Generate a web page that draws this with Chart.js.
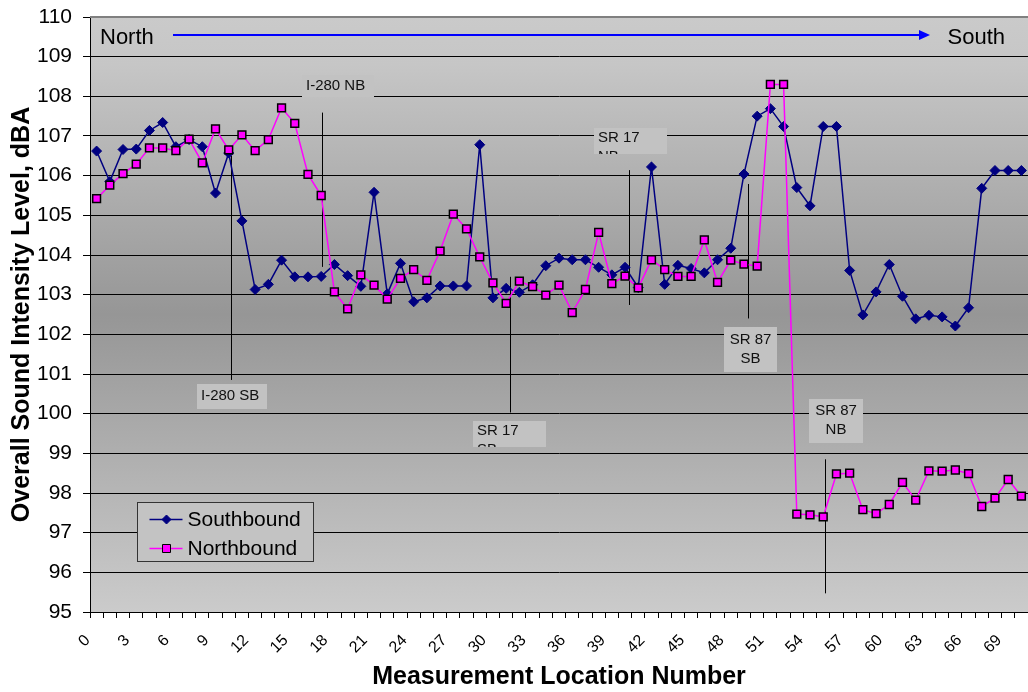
<!DOCTYPE html>
<html>
<head>
<meta charset="utf-8">
<script src="https://cdn.jsdelivr.net/npm/chart.js@4.4.0/dist/chart.umd.min.js"></script>
<style>
  html, body { margin: 0; padding: 0; background: #fff; overflow: hidden; }
  #wrap { width: 1028px; height: 692px; overflow: hidden; }
  #noiseChart { display: block; }
</style>
</head>
<body>
<div id="wrap"><canvas id="noiseChart" width="1028" height="692"></canvas></div>
<script>
// measurement locations along the route, north to south
const locations = [0, 1, 2, 3, 4, 5, 6, 7, 8, 9, 10, 11, 12, 13, 14, 15, 16, 17, 18, 19,
  20, 21, 22, 23, 24, 25, 26, 27, 28, 29, 30, 31, 32, 33, 34, 35, 36, 37, 38, 39,
  40, 41, 42, 43, 44, 45, 46, 47, 48, 49, 50, 51, 52, 53, 54, 55, 56, 57, 58, 59,
  60, 61, 62, 63, 64, 65, 66, 67, 68, 69, 70];

const southbound = [106.62, 105.85, 106.66, 106.67, 107.14, 107.34, 106.73, 106.91, 106.73, 105.56,
  106.57, 104.86, 103.13, 103.26, 103.87, 103.45, 103.45, 103.46, 103.76, 103.48,
  103.21, 105.58, 103.02, 103.79, 102.82, 102.92, 103.22, 103.22, 103.22, 106.78,
  102.92, 103.16, 103.06, 103.25, 103.73, 103.92, 103.88, 103.88, 103.69, 103.50,
  103.69, 103.18, 106.22, 103.26, 103.74, 103.66, 103.55, 103.88, 104.17, 106.04,
  107.50, 107.69, 107.24, 105.70, 105.24, 107.24, 107.24, 103.61, 102.49, 103.07,
  103.76, 102.96, 102.39, 102.48, 102.44, 102.21, 102.67, 105.68, 106.13, 106.13, 106.13];

const northbound = [105.42, 105.76, 106.05, 106.29, 106.70, 106.70, 106.63, 106.92, 106.32, 107.18,
  106.65, 107.03, 106.63, 106.91, 107.71, 107.32, 106.03, 105.50, 103.07, 102.64,
  103.50, 103.24, 102.89, 103.41, 103.63, 103.36, 104.10, 105.03, 104.66, 103.95,
  103.30, 102.78, 103.34, 103.20, 102.99, 103.24, 102.55, 103.13, 104.57, 103.28,
  103.47, 103.17, 103.88, 103.63, 103.46, 103.46, 104.38, 103.31, 103.87, 103.77,
  103.72, 108.30, 108.30, 97.47, 97.45, 97.40, 98.48, 98.50, 97.58, 97.48,
  97.71, 98.27, 97.82, 98.56, 98.55, 98.58, 98.49, 97.66, 97.87, 98.34, 97.92];

const yTicks = [95, 96, 97, 98, 99, 100, 101, 102, 103, 104, 105, 106, 107, 108, 109, 110];

// interchange marker lines: location and dBA extent
const interchanges = [
  { loc: 10.17, top: 106.5, bottom: 100.85 },
  { loc: 17.04, top: 107.59, bottom: 103.70 },
  { loc: 31.32, top: 103.45, bottom: 100.03 },
  { loc: 40.30, top: 106.14, bottom: 102.74 },
  { loc: 49.29, top: 105.79, bottom: 102.40 },
  { loc: 55.14, top: 98.85, bottom: 95.47 }
];

// callout texts, anchored at location / dBA of their top-left corner
const callouts = [
  { text: ['I-280 SB'], loc: 7.60, top: 100.75 },
  { text: ['I-280 NB'], loc: 15.55, top: 108.54 },
  { text: ['SR 17', 'SB'], loc: 28.49, top: 99.82 },
  { text: ['SR 17', 'NB'], loc: 37.65, top: 107.20 },
  { text: ['SR 87', 'SB'], loc: 47.49, top: 102.19 },
  { text: ['SR 87', 'NB'], loc: 53.93, top: 100.37 }
];
const calloutBoxes = [
  { w: 70, h: 25, align: 'left', dy: 12 },
  { w: 72, h: 22, align: 'left', dy: 11 },
  { w: 73, h: 26, align: 'left', dy: 10 },
  { w: 73, h: 26, align: 'left', dy: 10 },
  { w: 53, h: 45, align: 'center', dy: 13 },
  { w: 54, h: 44, align: 'center', dy: 12 }
];

const FONT = '"Liberation Sans", Arial, sans-serif';

const backdrop = {
  id: 'backdrop',
  beforeDraw(chart) {
    const { ctx, chartArea: a } = chart;
    const g = ctx.createLinearGradient(0, a.top, 0, a.bottom);
    g.addColorStop(0, '#cacaca');
    g.addColorStop(0.08, '#c6c6c6');
    g.addColorStop(0.5, '#969696');
    g.addColorStop(1, '#cbcbcb');
    ctx.save();
    ctx.fillStyle = g;
    ctx.fillRect(a.left, a.top, a.right - a.left, a.bottom - a.top);
    ctx.restore();
  }
};

const notes = {
  id: 'notes',
  beforeDatasetsDraw(chart) {
    const { ctx, scales: { x, y } } = chart;
    ctx.save();
    ctx.strokeStyle = '#000';
    ctx.lineWidth = 1;
    interchanges.forEach(m => {
      const px = Math.round(x.getPixelForValue(m.loc)) + 0.5;
      ctx.beginPath();
      ctx.moveTo(px, y.getPixelForValue(m.top));
      ctx.lineTo(px, y.getPixelForValue(m.bottom));
      ctx.stroke();
    });

    ctx.font = '15px ' + FONT;
    ctx.textBaseline = 'middle';
    callouts.forEach((c, i) => {
      const b = calloutBoxes[i];
      const bx = Math.round(x.getPixelForValue(c.loc));
      const by = Math.round(y.getPixelForValue(c.top));
      ctx.save();
      ctx.fillStyle = '#c2c2c2';
      ctx.fillRect(bx, by, b.w, b.h);
      ctx.beginPath();
      ctx.rect(bx, by, b.w, b.h);
      ctx.clip();
      ctx.fillStyle = '#111';
      ctx.textAlign = b.align;
      const tx = b.align === 'center' ? bx + b.w / 2 : bx + 4;
      c.text.forEach((t, j) => ctx.fillText(t, tx, by + b.dy + j * 19));
      ctx.restore();
    });

    // direction banner
    const a = chart.chartArea;
    ctx.font = '22px ' + FONT;
    ctx.fillStyle = '#000';
    ctx.textAlign = 'left';
    ctx.fillText('North', a.left + 10, a.top + 21);
    ctx.textAlign = 'right';
    ctx.fillText('South', a.right - 23, a.top + 21);
    const ax0 = a.left + 83, ax1 = a.right - 98, ay = a.top + 18;
    ctx.strokeStyle = '#0000ff';
    ctx.fillStyle = '#0000ff';
    ctx.lineWidth = 2;
    ctx.beginPath();
    ctx.moveTo(ax0, ay);
    ctx.lineTo(ax1 - 8, ay);
    ctx.stroke();
    ctx.beginPath();
    ctx.moveTo(ax1, ay);
    ctx.lineTo(ax1 - 11, ay - 5);
    ctx.lineTo(ax1 - 11, ay + 5);
    ctx.closePath();
    ctx.fill();
    ctx.restore();
  },
  afterDraw(chart) {
    const { ctx, chartArea: a } = chart;
    ctx.save();
    // plot frame top edge
    ctx.strokeStyle = '#808080';
    ctx.lineWidth = 2;
    ctx.beginPath();
    ctx.moveTo(a.left, a.top);
    ctx.lineTo(a.right, a.top);
    ctx.stroke();

    // legend box
    const bx = a.left + 47.5, by = a.bottom - 109.5, bw = 176, bh = 59;
    ctx.fillStyle = '#c3c3c3';
    ctx.fillRect(bx, by, bw, bh);
    ctx.strokeStyle = '#333';
    ctx.lineWidth = 1;
    ctx.strokeRect(bx, by, bw, bh);
    ctx.font = '21px ' + FONT;
    ctx.textBaseline = 'middle';
    ctx.textAlign = 'left';
    const items = [chart.data.datasets[1], chart.data.datasets[0]];
    items.forEach((ds, i) => {
      const ly = Math.round(by + 16 + i * 29) + 0.5;
      const mx = bx + 29;
      ctx.strokeStyle = ds.borderColor;
      ctx.lineWidth = 1.5;
      ctx.beginPath();
      ctx.moveTo(bx + 12, ly);
      ctx.lineTo(bx + 45, ly);
      ctx.stroke();
      ctx.fillStyle = ds.pointBackgroundColor;
      ctx.strokeStyle = ds.pointBorderColor;
      ctx.lineWidth = 1;
      ctx.beginPath();
      if (ds.pointStyle === 'rectRot') {
        ctx.moveTo(mx, ly - 4.5);
        ctx.lineTo(mx + 4.5, ly);
        ctx.lineTo(mx, ly + 4.5);
        ctx.lineTo(mx - 4.5, ly);
        ctx.closePath();
      } else {
        ctx.rect(mx - 4, ly - 4, 8, 8);
      }
      ctx.fill();
      ctx.stroke();
      ctx.fillStyle = '#000';
      ctx.fillText(ds.label, bx + 50, ly + 1);
    });
    ctx.restore();
  }
};

function noPadding(scale) {
  scale.paddingLeft = 0;
  scale.paddingRight = 0;
  scale.paddingTop = 0;
  scale.paddingBottom = 0;
}

const ctx = document.getElementById('noiseChart');

new Chart(ctx, {
  type: 'line',
  data: {
    labels: locations,
    datasets: [{
      label: 'Northbound',
      data: northbound,
      order: 0,
      borderColor: '#ff00ff',
      borderWidth: 1.5,
      pointStyle: 'rect',
      pointRadius: 5.5,
      pointBackgroundColor: '#ff00ff',
      pointBorderColor: '#000',
      pointBorderWidth: 1.5,
      tension: 0
    }, {
      label: 'Southbound',
      data: southbound,
      order: 1,
      borderColor: '#000080',
      borderWidth: 1.5,
      pointStyle: 'rectRot',
      pointRadius: 5,
      pointBackgroundColor: '#000080',
      pointBorderColor: '#000080',
      pointBorderWidth: 1,
      tension: 0
    }]
  },
  options: {
    responsive: false,
    animation: false,
    events: [],
    layout: { autoPadding: false, padding: { top: 17, left: 0, right: 0, bottom: 0 } },
    plugins: { legend: { display: false }, tooltip: { enabled: false } },
    scales: {
      x: {
        type: 'category',
        offset: true,
        grid: { offset: true, drawOnChartArea: false, tickLength: 6, color: '#000' },
        border: { color: '#000', width: 1 },
        ticks: {
          autoSkip: false,
          minRotation: 45,
          maxRotation: 45,
          padding: 13,
          labelOffset: -9,
          color: '#000',
          font: { family: FONT, size: 16 },
          callback: (v, i) => (locations[i] % 3 === 0 ? String(locations[i]) : '')
        },
        title: {
          display: true,
          text: 'Measurement Location Number',
          color: '#000',
          font: { family: FONT, size: 25, weight: 'bold' },
          padding: { top: 0, bottom: 0 }
        },
        afterFit(scale) {
          scale.height = 80;
          noPadding(scale);
        }
      },
      y: {
        min: yTicks[0],
        max: yTicks[yTicks.length - 1],
        afterBuildTicks(scale) {
          scale.ticks = yTicks.map(v => ({ value: v }));
        },
        grid: { color: '#000', tickLength: 7, lineWidth: 1 },
        border: { color: '#000', width: 1 },
        ticks: {
          padding: 11,
          color: '#000',
          font: { family: FONT, size: 21 }
        },
        title: {
          display: true,
          text: 'Overall Sound Intensity Level, dBA',
          color: '#000',
          font: { family: FONT, size: 25, weight: 'bold' },
          padding: { top: 7, bottom: 0 }
        },
        afterFit(scale) {
          scale.width = 90;
          noPadding(scale);
        }
      }
    }
  },
  plugins: [backdrop, notes]
});
</script>
</body>
</html>
